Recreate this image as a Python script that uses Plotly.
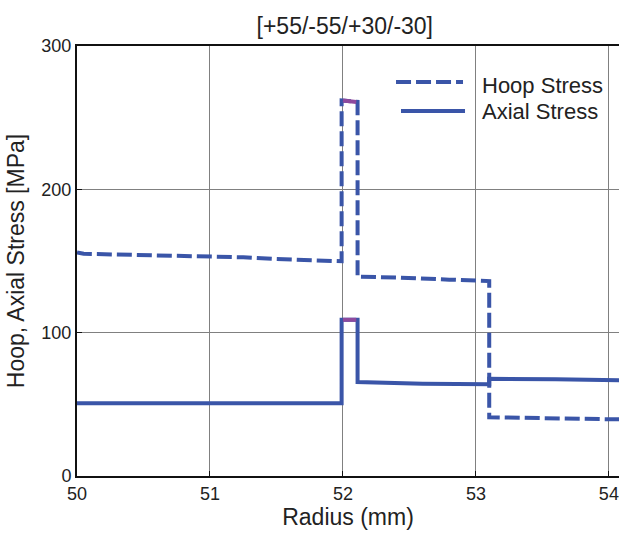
import plotly.graph_objects as go

# Data
hoop_r = [50.0, 50.05, 50.3, 50.85, 51.25, 51.5, 51.85, 51.99, 51.99, 52.11, 52.11, 52.4, 52.8, 53.1, 53.1, 53.6, 54.08]
hoop = [156, 155, 154.5, 153.5, 152.6, 151.4, 150.5, 149.8, 262, 261, 139, 138.5, 137, 136, 41, 40.5, 39.5]

axial_r = [50.0, 51.99, 51.99, 52.11, 52.11, 52.6, 53.1, 53.1, 53.6, 54.08]
axial = [50.8, 50.8, 109, 109, 65.5, 64.3, 64, 67.8, 67.5, 66.8]

# short purple peak segments
hoop_peak_r = [52.0, 52.1]
hoop_peak = [262, 261]
axial_peak_r = [52.0, 52.1]
axial_peak = [109, 109]

x_ticks = [50, 51, 52, 53, 54]
y_ticks = [0, 100, 200, 300]
series_names = ["Hoop Stress", "Axial Stress"]

BLUE = "#3a55a8"
PURPLE = "#8e4a9e"
TXT = "#222222"
FONT = "Liberation Sans, Arial, Helvetica, sans-serif"
DASH = "15px,5px"

fig = go.Figure()
fig.add_trace(go.Scatter(x=hoop_r, y=hoop, mode="lines", name=series_names[0], showlegend=False,
                         line=dict(color=BLUE, width=4, dash=DASH)))
fig.add_trace(go.Scatter(x=axial_r, y=axial, mode="lines", name=series_names[1], showlegend=False,
                         line=dict(color=BLUE, width=4)))
fig.add_trace(go.Scatter(x=hoop_peak_r, y=hoop_peak, mode="lines", showlegend=False,
                         line=dict(color=PURPLE, width=4)))
fig.add_trace(go.Scatter(x=axial_peak_r, y=axial_peak, mode="lines", showlegend=False,
                         line=dict(color=PURPLE, width=4)))

# Legend (drawn in paper coordinates, MATLAB style with long samples)
legend_rows = [(0.916, 0.908, dict(dash=DASH), 0.5886, 0.7122),
               (0.849, 0.848, dict(), 0.5978, 0.7159)]
for (ly, ty, extra, x0, x1), name in zip(legend_rows, series_names):
    fig.add_shape(type="line", xref="paper", yref="paper", x0=x0, x1=x1, y0=ly, y1=ly,
                  line=dict(color=BLUE, width=4, **extra))
    fig.add_annotation(xref="paper", yref="paper", x=0.7435, y=ty, xanchor="left",
                       yanchor="middle", text=name, showarrow=False,
                       font=dict(size=22, color=TXT, family=FONT))

fig.update_layout(
    width=619, height=534,
    margin=dict(l=77, r=0, t=46, b=58),
    paper_bgcolor="white", plot_bgcolor="white",
    font=dict(family=FONT, size=18, color=TXT),
    title=dict(text="[+55/-55/+30/-30]", x=0.557, xanchor="center", y=0.952, yanchor="middle",
               font=dict(size=23, color=TXT)),
    showlegend=False,
    xaxis=dict(range=[50, 54.076], tickvals=x_ticks, ticktext=[str(v) for v in x_ticks],
               showgrid=True, gridcolor="#808080", gridwidth=1,
               showline=True, linecolor="#111", linewidth=2, mirror=True,
               ticks="inside", ticklen=5, tickcolor="#111", zeroline=False,
               tickfont=dict(size=18, color=TXT),
               title=dict(text="Radius (mm)", font=dict(size=23, color=TXT), standoff=6)),
    yaxis=dict(range=[0, 300], tickvals=y_ticks, ticktext=[str(v) for v in y_ticks],
               showgrid=True, gridcolor="#808080", gridwidth=1,
               showline=True, linecolor="#111", linewidth=2, mirror=False,
               ticks="inside", ticklen=5, tickcolor="#111", zeroline=False,
               tickfont=dict(size=18, color=TXT),
               title=dict(text="Hoop, Axial Stress [MPa]", font=dict(size=23, color=TXT), standoff=10)),
)

fig.write_html("out.html")
